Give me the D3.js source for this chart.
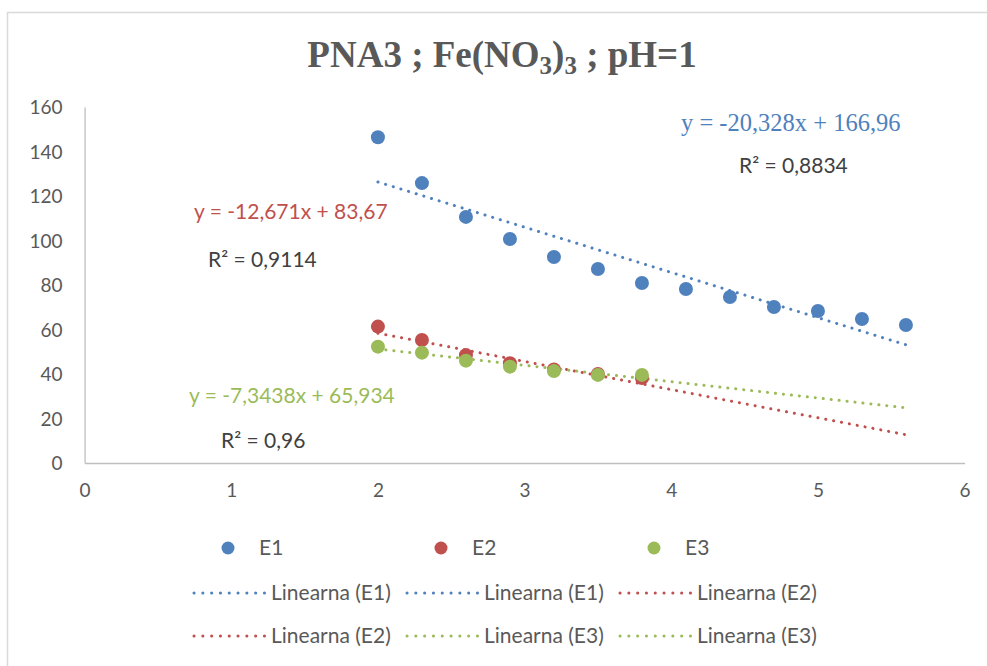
<!DOCTYPE html>
<html>
<head>
<meta charset="utf-8">
<script src="https://cdn.jsdelivr.net/npm/d3@7"></script>
<style>
    body { margin: 0; background: #fff; }
    text { font-family: Lato, "Liberation Sans", sans-serif; }
</style>
</head>
<body>
<div id="chart"></div>
<script>
// measured values
let xValues = [2, 2.3, 2.6, 2.9, 3.2, 3.5, 3.8, 4.1, 4.4, 4.7, 5.0, 5.3, 5.6];
let e1Values = [146.4, 125.8, 110.6, 100.7, 92.6, 87.2, 80.9, 78.2, 74.6, 70.1, 68.3, 64.7, 62.0];
let e2Values = [61.3, 55.3, 48.5, 44.8, 42.0, 40.0, 38.2];
let e3Values = [52.3, 49.6, 46.0, 43.3, 41.3, 39.6, 39.6];

// trendline coefficients as printed on the chart
let seriesNames = ["E1", "E2", "E3"];
let slopes = [-20.328, -12.671, -7.3438];
let intercepts = [166.96, 83.67, 65.934];
let equations = ["y = -20,328x + 166,96", "y = -12,671x + 83,67", "y = -7,3438x + 65,934"];
let rSquared = ["R² = 0,8834", "R² = 0,9114", "R² = 0,96"];
let trendRange = [2, 5.6];

let xTicks = [0, 1, 2, 3, 4, 5, 6];
let yTicks = [0, 20, 40, 60, 80, 100, 120, 140, 160];

let colors = ["#4F81BD", "#C0504D", "#9BBB59"];
let legendLines = ["Linearna (E1)", "Linearna (E1)", "Linearna (E2)",
                   "Linearna (E2)", "Linearna (E3)", "Linearna (E3)"];
let legendLineColor = [0, 0, 1, 1, 2, 2];

let series = [e1Values, e2Values, e3Values].map((vals, i) => ({
    name: seriesNames[i],
    color: colors[i],
    points: vals.map((v, j) => ({x: xValues[j], y: v}))
}));

let width = 987, height = 666;
let margin = {top: 107, left: 84.6, right: 22.4, bottom: 203};

let svg = d3.select("#chart").append("svg")
    .attr("width", width)
    .attr("height", height);

// chart frame
svg.append("rect")
    .attr("x", 7.5).attr("y", 12.5)
    .attr("width", 1000).attr("height", 700)
    .attr("fill", "none")
    .attr("stroke", "#d9d9d9")
    .attr("stroke-width", 1.5);

let x = d3.scaleLinear().domain([0, 6]).range([margin.left, width - margin.right]);
let y = d3.scaleLinear().domain([0, 160]).range([height - margin.bottom, margin.top]);

// title with subscripts
let title = svg.append("text")
    .attr("x", 502).attr("y", 67)
    .attr("text-anchor", "middle")
    .attr("fill", "#595959")
    .style("font-family", "'Liberation Serif', 'Times New Roman', serif")
    .style("font-weight", "bold")
    .style("font-size", "37px");
title.append("tspan").text("PNA3 ; Fe(NO");
title.append("tspan").text("3").attr("dy", 7).style("font-size", "25px");
title.append("tspan").text(")").attr("dy", -7);
title.append("tspan").text("3").attr("dy", 7).style("font-size", "25px");
title.append("tspan").text(" ; pH=1").attr("dy", -7);

// axes
let xAxis = d3.axisBottom(x).tickValues(xTicks).tickFormat(d3.format("d")).tickSize(0).tickPadding(21);
let yAxis = d3.axisLeft(y).tickValues(yTicks).tickSize(0).tickPadding(22);

let xAxisGroup = svg.append("g")
    .attr("transform", "translate(0," + y(0) + ")")
    .call(xAxis);
let yAxisGroup = svg.append("g")
    .attr("transform", "translate(" + x(0) + ",0)")
    .call(yAxis);

[xAxisGroup, yAxisGroup].forEach(g => {
    g.select(".domain").attr("stroke", "#bfbfbf").attr("stroke-width", 1.3);
    g.selectAll("text")
        .attr("fill", "#595959")
        .style("font-family", "Lato, sans-serif")
        .style("font-size", "19px");
});
yAxisGroup.selectAll("text").attr("dy", "0.35em");

// trendlines (dotted)
series.forEach((s, i) => {
    let pts = trendRange.map(v => [x(v), y(slopes[i] * v + intercepts[i])]);
    svg.append("line")
        .attr("x1", pts[0][0]).attr("y1", pts[0][1])
        .attr("x2", pts[1][0]).attr("y2", pts[1][1])
        .attr("stroke", s.color)
        .attr("stroke-width", 3)
        .attr("stroke-linecap", "round")
        .attr("stroke-dasharray", "0.1,7.9");
});

// points
series.forEach(s => {
    svg.append("g").selectAll("circle")
        .data(s.points)
        .enter()
        .append("circle")
        .attr("cx", d => x(d.x))
        .attr("cy", d => y(d.y))
        .attr("r", 7)
        .attr("fill", s.color);
});

// equation labels
let eqPos = [[681, 131], [194, 219], [189, 403]];
let r2Pos = [[739, 173], [208, 267], [221, 448]];
series.forEach((s, i) => {
    svg.append("text")
        .attr("x", eqPos[i][0]).attr("y", eqPos[i][1])
        .attr("fill", s.color)
        .style("font-family", i === 0 ? "'Liberation Serif', serif" : "Lato, sans-serif")
        .style("font-size", i === 0 ? "24.5px" : "21px")
        .text(equations[i]);
    svg.append("text")
        .attr("x", r2Pos[i][0]).attr("y", r2Pos[i][1])
        .attr("fill", "#404040")
        .style("font-size", "21px")
        .text(rSquared[i]);
});

// legend
let colX = [193, 406, 619];
let legend = svg.append("g");
series.forEach((s, i) => {
    legend.append("circle")
        .attr("cx", colX[i] + 35).attr("cy", 548)
        .attr("r", 6.5)
        .attr("fill", s.color);
    legend.append("text")
        .attr("x", colX[i] + 66).attr("y", 548)
        .attr("dy", "0.35em")
        .attr("fill", "#595959")
        .style("font-size", "21px")
        .text(s.name);
});
legendLines.forEach((label, k) => {
    let cx = colX[k % 3];
    let cy = k < 3 ? 593 : 636;
    legend.append("line")
        .attr("x1", cx + 1).attr("x2", cx + 72)
        .attr("y1", cy).attr("y2", cy)
        .attr("stroke", colors[legendLineColor[k]])
        .attr("stroke-width", 3)
        .attr("stroke-linecap", "round")
        .attr("stroke-dasharray", "0.1,8.7");
    legend.append("text")
        .attr("x", cx + 78).attr("y", cy)
        .attr("dy", "0.35em")
        .attr("fill", "#595959")
        .style("font-size", "21px")
        .text(label);
});
</script>
</body>
</html>
